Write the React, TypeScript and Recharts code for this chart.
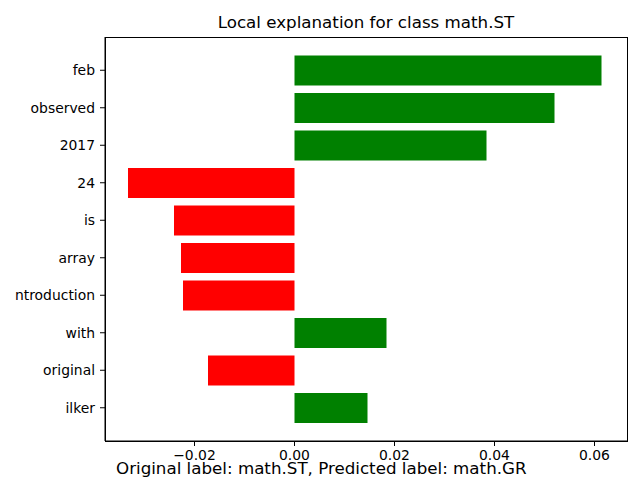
import React from "react";
import { BarChart, Bar, XAxis, YAxis, Cell, ReferenceLine } from "recharts";

const features = ["feb", "observed", "2017", "24", "is", "array", "ntroduction", "with", "original", "ilker"];
const weights = [0.0614, 0.0520, 0.0384, -0.0333, -0.0241, -0.0227, -0.0223, 0.0184, -0.0173, 0.0146];
const xTicks = [-0.02, 0, 0.02, 0.04, 0.06];
const title = "Local explanation for class math.ST";
const footer = "Original label: math.ST, Predicted label: math.GR";

const data = features.map((f, i) => ({ name: f, value: weights[i] }));
const font = "'DejaVu Sans', sans-serif";

const fmt = (v: number) => {
  const s = Math.abs(v).toFixed(2);
  return v < 0 ? "\u2212" + s : s;
};

export default function App() {
  return (
    <div style={{ position: "absolute", left: 0, top: 0, width: 640, height: 480, background: "#fff", fontFamily: font }}>
      <BarChart
        width={640}
        height={480}
        data={data}
        layout="vertical"
        margin={{ top: 37, right: 13, bottom: 19, left: 0 }}
        barSize={30}
      >
        <XAxis
          type="number"
          domain={[-0.0379, 0.0665]}
          allowDataOverflow
          ticks={xTicks}
          tickFormatter={fmt}
          height={20}
          tickSize={5}
          tickMargin={4}
          stroke="#000"
          tick={{ fill: "#000", fontSize: 13.9, fontFamily: font }}
          axisLine={{ stroke: "#000" }}
          tickLine={{ stroke: "#000" }}
        />
        <YAxis
          type="category"
          dataKey="name"
          width={105}
          tickSize={5}
          tickMargin={5}
          padding={{ top: 14.5, bottom: 14.5 }}
          interval={0}
          tick={{ fill: "#000", fontSize: 13.9, fontFamily: font }}
          axisLine={{ stroke: "#000" }}
          tickLine={{ stroke: "#000" }}
        />
        <Bar dataKey="value" isAnimationActive={false}>
          {data.map((d, i) => (
            <Cell key={i} fill={d.value >= 0 ? "#008000" : "#ff0000"} />
          ))}
        </Bar>
      </BarChart>
      <div
        style={{
          position: "absolute",
          left: 105,
          top: 37,
          width: 521,
          height: 403,
          border: "1px solid #000",
          pointerEvents: "none",
        }}
      />
      <div
        style={{
          position: "absolute",
          left: 105,
          width: 522,
          top: 12,
          textAlign: "center",
          fontSize: 16.7,
          lineHeight: "20px",
          color: "#000",
        }}
      >
        {title}
      </div>
      <div
        style={{
          position: "absolute",
          left: 116,
          top: 458,
          fontSize: 16.7,
          lineHeight: "20px",
          color: "#000",
          whiteSpace: "nowrap",
        }}
      >
        {footer}
      </div>
    </div>
  );
}
